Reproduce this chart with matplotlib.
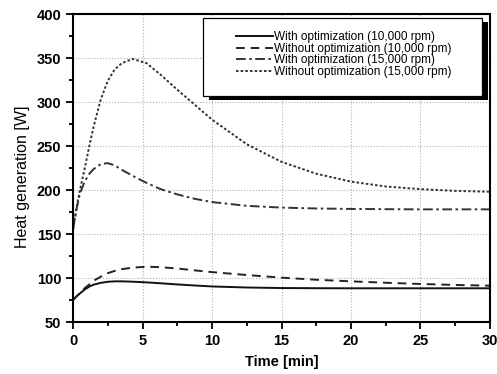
import numpy as np
import matplotlib.pyplot as plt
from matplotlib.patches import Rectangle
from matplotlib.ticker import MultipleLocator

plt.rcParams['font.family'] = ['Liberation Sans', 'DejaVu Sans']

t = [0, 0.25, 0.5, 0.85, 1.2, 1.5, 2, 2.5, 3, 3.5, 4.3, 5.3, 6.3, 7.5, 8.75,
     10, 12.5, 15, 17.5, 20, 22.5, 25, 27.5, 30]
with_10k = [75, 79, 82.5, 87, 90.5, 92.5, 94.5, 95.7, 96.2, 96.2, 95.8, 95, 94, 92.7, 91.5,
            90.4, 89.2, 88.6, 88.4, 88.3, 88.3, 88.3, 88.3, 88.3]
without_10k = [75, 79, 83, 88.5, 93, 97, 101.5, 105.5, 108, 110, 111.8, 112.8, 112.3, 110.8, 108.7,
               106.7, 103.4, 100.4, 98, 96.2, 94.6, 93.2, 92.1, 91.3]
with_15k = [155, 178, 196, 210, 219, 224, 229.5, 230.5, 228, 223, 216, 208, 201, 195, 190,
            186.3, 182, 180, 179, 178.5, 178.2, 178, 178, 178]
without_15k = [155, 180, 200, 225, 252, 273, 303, 324, 337, 344, 349, 344, 331, 314, 297,
               280, 252, 232, 218.5, 209.5, 204, 201, 199, 198]

labels = ['With optimization (10,000 rpm)', 'Without optimization (10,000 rpm)',
          'With optimization (15,000 rpm)', 'Without optimization (15,000 rpm)']

W, H = 497, 374
fig = plt.figure(figsize=(W / 100, H / 100), dpi=100)
ax = fig.add_axes([73 / W, 1 - 322 / H, 417 / W, 308 / H])

ax.plot(t, with_10k, color='#111111', lw=1.4, ls='-', label=labels[0])
ax.plot(t, without_10k, color='#222222', lw=1.4, ls=(0, (4.5, 3)), label=labels[1])
ax.plot(t, with_15k, color='#333333', lw=1.4, ls=(0, (5, 1.8, 1.3, 1.8)), label=labels[2])
ax.plot(t, without_15k, color='#333333', lw=1.4, ls=(0, (1.3, 1.1)), label=labels[3])

ax.set_xlim(0, 30)
ax.set_ylim(50, 400)
ax.xaxis.set_major_locator(MultipleLocator(5))
ax.xaxis.set_minor_locator(MultipleLocator(2.5))
ax.yaxis.set_major_locator(MultipleLocator(50))
ax.yaxis.set_minor_locator(MultipleLocator(25))
ax.grid(True, which='major', ls=':', color='#b0b0b0', lw=0.8)
ax.tick_params(which='both', direction='out', top=False, right=False, width=1.3)
ax.tick_params(which='major', length=5, labelsize=10.5)
ax.tick_params(which='minor', length=3)
for lab in ax.get_xticklabels() + ax.get_yticklabels():
    lab.set_fontweight('bold')
for sp in ax.spines.values():
    sp.set_linewidth(1.5)

ax.set_xlabel('Time [min]', fontsize=10.5, fontweight='bold', labelpad=5.5)
ax.set_ylabel('Heat generation [W]', fontsize=11.5)
ax.yaxis.set_label_coords(-0.103, 0.47)

# legend box with drop shadow
x0, y0, x1, y1 = 203, 18, 482, 96
shadow = Rectangle(((x0 + 6) / W, 1 - (y1 + 3.5) / H), (x1 - x0) / W, (y1 - y0) / H,
                   transform=fig.transFigure, facecolor='black', edgecolor='none',
                   clip_on=False, zorder=5)
box = Rectangle((x0 / W, 1 - y1 / H), (x1 - x0) / W, (y1 - y0) / H,
                transform=fig.transFigure, facecolor='white', edgecolor='black',
                lw=0.9, clip_on=False, zorder=6)
ax.add_patch(shadow)
ax.add_patch(box)

leg = ax.legend(loc='upper left', bbox_to_anchor=(230 / W, 1 - 25 / H),
                bbox_transform=fig.transFigure, fontsize=8.5, frameon=False,
                handlelength=3.1, handletextpad=0.1, labelspacing=-0.02, borderpad=0)
leg.set_zorder(7)

fig.savefig('out.png', dpi=100)
